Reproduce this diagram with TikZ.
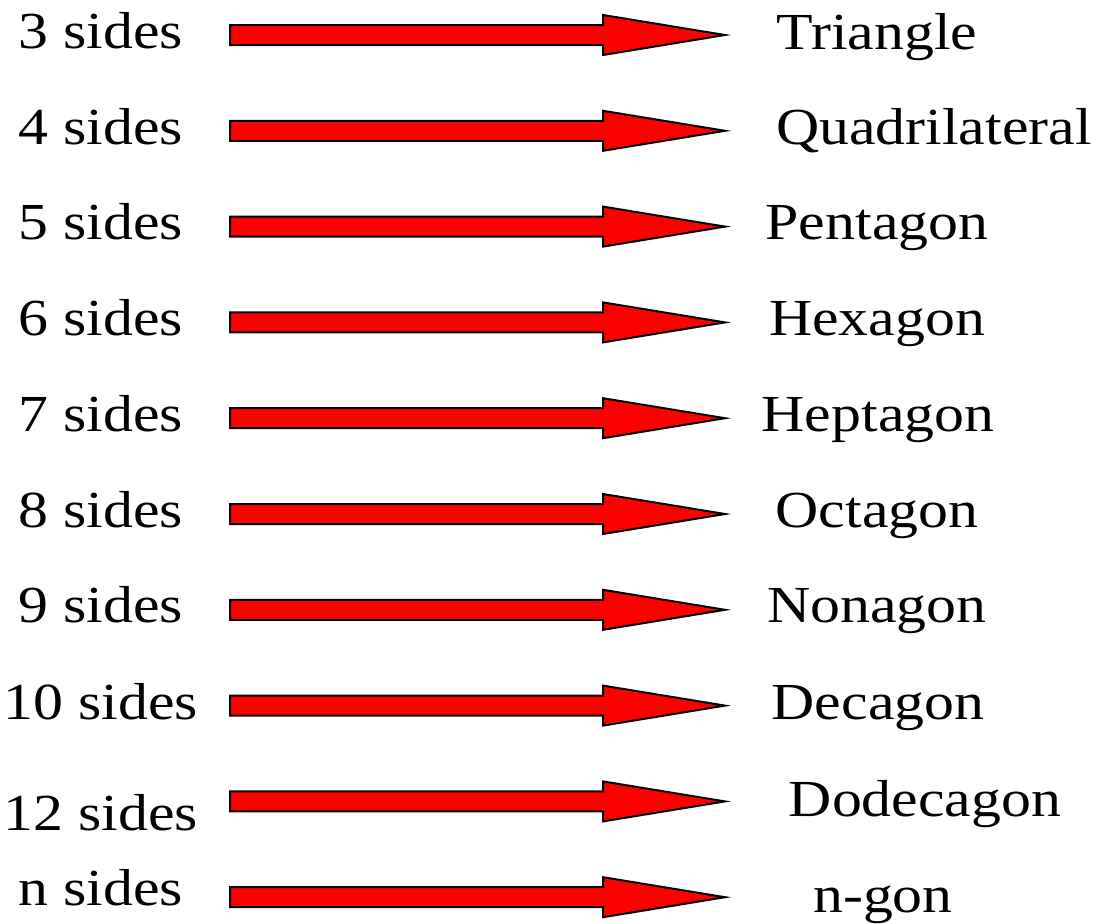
\documentclass[tikz,border=0pt]{standalone}
\usepackage{fontspec}
\setmainfont[FakeStretch=1.15]{Liberation Serif}
\tikzset{
  redarrow/.pic={\draw[fill=red, line width=2pt, line join=miter] (0,-10) -- (373,-10) -- (373,-20) -- (495,0) -- (373,20) -- (373,10) -- (0,10) -- cycle;},
  lab/.style={anchor=base, inner sep=0, font=\fontsize{52}{60}\selectfont}
}
\begin{document}
\begin{tikzpicture}[x=1pt,y=-1pt]
\useasboundingbox (0,0) rectangle (1101,924);
\foreach \i/\l/\r/\lx/\lb/\rx/\rb in {
 0/3 sides/Triangle/101/48/877/49,
 1/4 sides/Quadrilateral/101/144/934/144,
 2/5 sides/Pentagon/101/239/877/239,
 3/6 sides/Hexagon/101/335/877/335,
 4/7 sides/Heptagon/101/431/878/431,
 5/8 sides/Octagon/101/527/877/527,
 6/9 sides/Nonagon/101/622/877/622,
 7/10 sides/Decagon/101/719/878/719,
 8/12 sides/Dodecagon/101/830/925/816,
 9/n sides/n-gon/101/905/883/912}{
  \pgfmathsetmacro{\cy}{35+95.8*\i}
  \node[lab] (L\i) at (\lx,\lb) {\l};
  \node[lab] (R\i) at (\rx,\rb) {\r};
  \coordinate (A\i) at (230,\cy);
  \pic at (A\i) {redarrow};
}
\end{tikzpicture}
\end{document}
